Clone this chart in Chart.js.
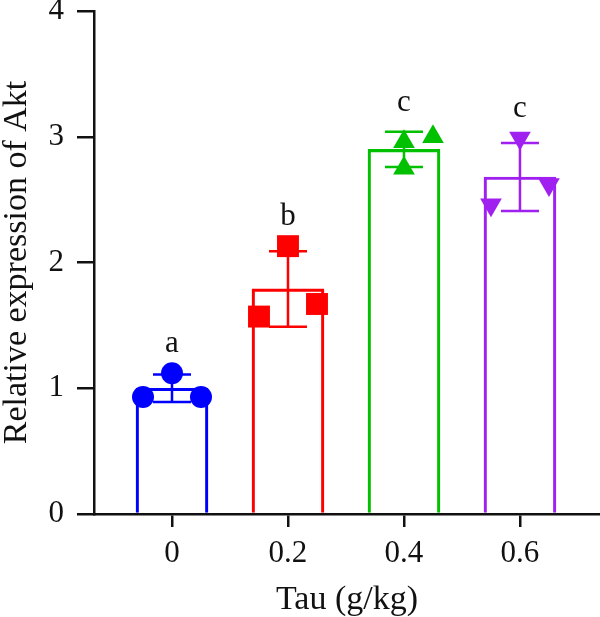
<!DOCTYPE html>
<html>
<head>
<meta charset="utf-8">
<title>Relative expression of Akt</title>
<script src="https://cdn.jsdelivr.net/npm/chart.js@4.4.1/dist/chart.umd.min.js"></script>
<style>
    body { margin: 0; background: #fff; }
    #wrap { width: 600px; height: 617px; }
</style>
</head>
<body>
<div id="wrap"><canvas id="akt-chart" width="600" height="617"></canvas></div>
<script>
const categories = [0, 0.2, 0.4, 0.6];
const tickLabels = ["0", "0.2", "0.4", "0.6"];
const means = [1.0, 1.79, 2.9, 2.68];
const sds = [0.11, 0.3, 0.14, 0.27];
const replicates = [
    [0.93, 1.12, 0.93],
    [1.57, 2.13, 1.67],
    [2.96, 3.0, 2.75],
    [2.46, 2.99, 2.62]
];
const jitter = [
    [-0.05, 0, 0.05],
    [-0.05, 0, 0.05],
    [0, 0.05, 0],
    [-0.05, 0, 0.05]
];
const letters = ["a", "b", "c", "c"];
const yTicks = [0, 1, 2, 3, 4];

const colors = ["#0000ff", "#ff0000", "#00c000", "#a020f0"];
const markers = ["circle", "rect", "triangle", "triangle"];
const markerSizes = [11, 15.5, 12.5, 12.5];
const markerRotation = [0, 0, 0, 180];
const ink = "#111";
const fontFamily = "'Liberation Serif', 'Times New Roman', serif";

document.addEventListener("DOMContentLoaded", () => {
    const ctx = document.getElementById("akt-chart").getContext("2d");

    // error bars go right after the bars so the points sit on top of them
    const errorBars = {
        id: "errorBars",
        afterDatasetDraw(chart, args) {
            if (args.index !== 0) return;
            const xs = chart.scales.x;
            const ys = chart.scales.y;
            const c = chart.ctx;
            c.save();
            c.lineWidth = 2.5;
            categories.forEach((cat, i) => {
                const x = xs.getPixelForValue(cat);
                const hi = ys.getPixelForValue(means[i] + sds[i]);
                const lo = ys.getPixelForValue(means[i] - sds[i]);
                c.strokeStyle = colors[i];
                c.beginPath();
                c.moveTo(x, lo);
                c.lineTo(x, hi);
                c.moveTo(x - 19, hi);
                c.lineTo(x + 19, hi);
                c.moveTo(x - 19, lo);
                c.lineTo(x + 19, lo);
                c.stroke();
            });
            c.restore();
        }
    };

    const letterLabels = {
        id: "letterLabels",
        afterDatasetsDraw(chart) {
            const xs = chart.scales.x;
            const ys = chart.scales.y;
            const c = chart.ctx;
            c.save();
            c.fillStyle = ink;
            c.font = "31px " + fontFamily;
            c.textAlign = "center";
            c.textBaseline = "alphabetic";
            categories.forEach((cat, i) => {
                const top = Math.max(...replicates[i], means[i] + sds[i]);
                c.fillText(letters[i], xs.getPixelForValue(cat), ys.getPixelForValue(top) - 21);
            });
            c.restore();
        }
    };

    const pointSets = replicates.map((vals, i) => ({
        type: "scatter",
        data: vals.map((v, j) => ({ x: categories[i] + jitter[i][j], y: v })),
        pointStyle: markers[i],
        pointRadius: markerSizes[i],
        rotation: markerRotation[i],
        backgroundColor: colors[i],
        borderColor: colors[i],
        borderWidth: 0,
        clip: false,
        order: 1
    }));

    new Chart(ctx, {
        type: "bar",
        data: {
            datasets: [{
                type: "bar",
                data: categories.map((cat, i) => ({ x: cat, y: means[i] })),
                backgroundColor: "rgba(0,0,0,0)",
                borderColor: colors,
                borderWidth: 2.5,
                barThickness: 72,
                order: 2
            }, ...pointSets]
        },
        options: {
            responsive: false,
            animation: false,
            layout: {
                autoPadding: false,
                padding: { top: 11, right: 0, left: 0, bottom: 0 }
            },
            plugins: {
                legend: { display: false },
                tooltip: { enabled: false }
            },
            scales: {
                x: {
                    type: "linear",
                    offset: false,
                    min: -0.1345,
                    max: 0.738,
                    afterBuildTicks: (scale) => {
                        scale.ticks = categories.map(v => ({ value: v }));
                    },
                    afterFit: (scale) => {
                        scale.height = 103;
                        scale.paddingLeft = 0;
                        scale.paddingRight = 0;
                    },
                    ticks: {
                        autoSkip: false,
                        maxRotation: 0,
                        padding: 8,
                        color: ink,
                        font: { family: fontFamily, size: 31 },
                        callback: (value, index) => tickLabels[index]
                    },
                    grid: {
                        offset: false,
                        drawOnChartArea: false,
                        tickLength: 13,
                        lineWidth: 2.5,
                        color: ink
                    },
                    border: { color: ink, width: 2.5 },
                    title: {
                        display: true,
                        text: "Tau (g/kg)",
                        color: ink,
                        font: { family: fontFamily, size: 34, lineHeight: 1 },
                        padding: 0
                    }
                },
                y: {
                    min: 0,
                    max: 4,
                    afterBuildTicks: (scale) => {
                        scale.ticks = yTicks.map(v => ({ value: v }));
                    },
                    afterFit: (scale) => {
                        scale.width = 94;
                        scale.paddingTop = 0;
                        scale.paddingBottom = 0;
                    },
                    ticks: {
                        padding: 13,
                        color: ink,
                        font: { family: fontFamily, size: 31 }
                    },
                    grid: {
                        drawOnChartArea: false,
                        tickLength: 17,
                        lineWidth: 2.5,
                        color: ink
                    },
                    border: { color: ink, width: 2.5 },
                    title: {
                        display: true,
                        text: "Relative expression of Akt",
                        color: ink,
                        font: { family: fontFamily, size: 34, lineHeight: 1 },
                        padding: 0
                    }
                }
            }
        },
        plugins: [errorBars, letterLabels]
    });
});
</script>
</body>
</html>
